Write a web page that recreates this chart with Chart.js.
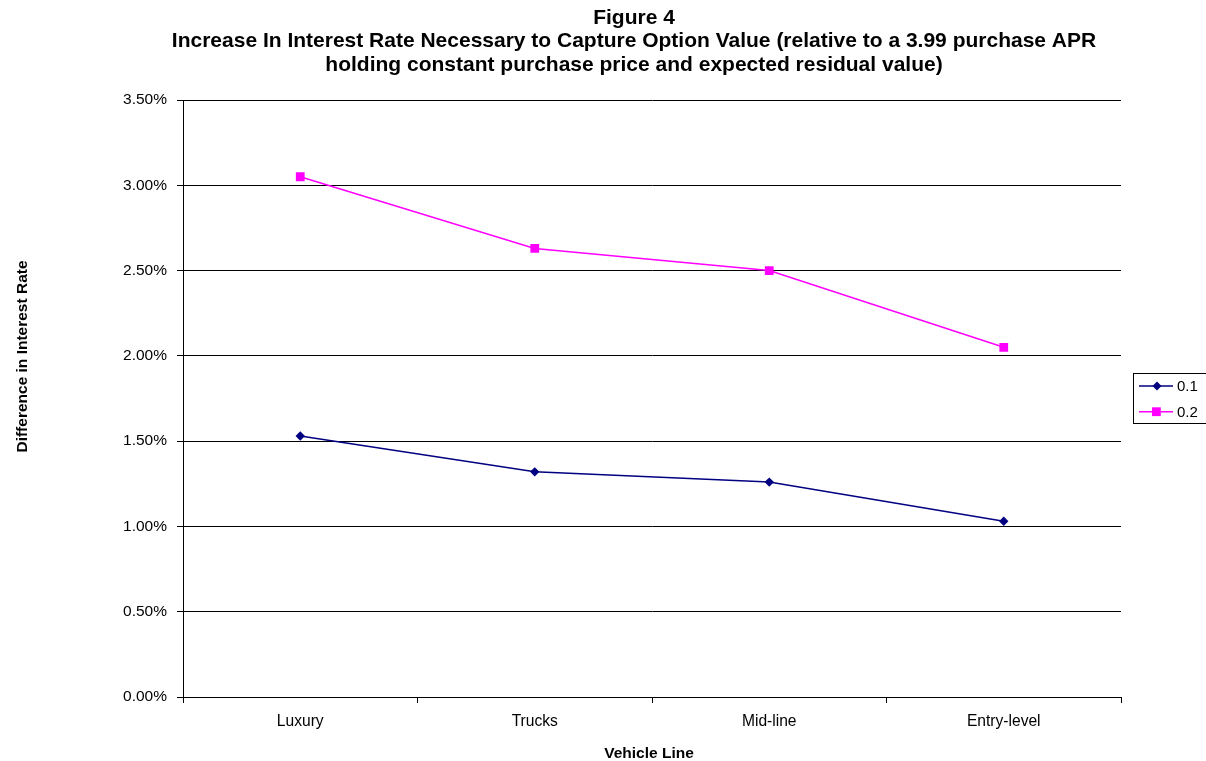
<!DOCTYPE html>
<html lang="en">
<head>
    <meta charset="UTF-8">
    <title>Figure 4</title>
    <script src="https://cdn.jsdelivr.net/npm/chart.js"></script>
    <style>
        body {
            margin: 0;
            padding: 0;
            background-color: #fff;
        }
        .wrap {
            width: 1206px;
            height: 761px;
        }
    </style>
</head>
<body>
    <div class="wrap">
        <canvas id="rateChart" width="1206" height="761"></canvas>
    </div>

    <script>
        const vehicleLines = ['Luxury', 'Trucks', 'Mid-line', 'Entry-level'];
        const seriesNames = ['0.1', '0.2'];
        const rates01 = [1.53, 1.32, 1.26, 1.03];
        const rates02 = [3.05, 2.63, 2.50, 2.05];
        const titleLines = [
            'Figure 4',
            'Increase In Interest Rate Necessary to Capture Option Value (relative to a 3.99 purchase APR',
            'holding constant purchase price and expected residual value)'
        ];

        const FONT = '"Liberation Sans", Arial, sans-serif';

        // titles and boxed legend, drawn the way the old spreadsheet placed them
        const textPlugin = {
            id: 'textPlugin',
            afterDraw(chart) {
                const ctx = chart.ctx;
                ctx.save();
                ctx.fillStyle = '#000';
                ctx.textAlign = 'center';
                ctx.textBaseline = 'alphabetic';

                ctx.font = 'bold 21px ' + FONT;
                titleLines.forEach((line, i) => ctx.fillText(line, 634, 24 + i * 23.3));

                ctx.font = 'bold 15.5px ' + FONT;
                ctx.fillText('Vehicle Line', 649, 758);
                ctx.save();
                ctx.translate(27, 356.5);
                ctx.rotate(-Math.PI / 2);
                ctx.fillText('Difference in Interest Rate', 0, 0);
                ctx.restore();

                // legend box
                ctx.strokeStyle = '#000';
                ctx.lineWidth = 1;
                ctx.strokeRect(1133.5, 373.5, 90, 50);
                ctx.font = '15px ' + FONT;
                ctx.textAlign = 'left';
                ctx.textBaseline = 'middle';
                chart.data.datasets.forEach((ds, i) => {
                    const y = 386 + i * 25.7;
                    ctx.strokeStyle = ds.borderColor;
                    ctx.fillStyle = ds.backgroundColor;
                    ctx.lineWidth = 1.5;
                    ctx.beginPath();
                    ctx.moveTo(1139, y);
                    ctx.lineTo(1173, y);
                    ctx.stroke();
                    ctx.beginPath();
                    if (ds.pointStyle === 'rectRot') {
                        ctx.moveTo(1157, y - 4.5);
                        ctx.lineTo(1161.5, y);
                        ctx.lineTo(1157, y + 4.5);
                        ctx.lineTo(1152.5, y);
                        ctx.closePath();
                    } else {
                        ctx.rect(1152, y - 4.4, 8.8, 8.8);
                    }
                    ctx.fill();
                    ctx.fillStyle = '#000';
                    ctx.fillText(ds.label, 1177, y + 1);
                });
                ctx.restore();
            }
        };

        new Chart(document.getElementById('rateChart'), {
            type: 'line',
            data: {
                labels: vehicleLines,
                datasets: [{
                    label: seriesNames[0],
                    data: rates01,
                    borderColor: '#000080',
                    backgroundColor: '#000080',
                    borderWidth: 1.5,
                    pointStyle: 'rectRot',
                    pointRadius: 4.7,
                    pointBorderWidth: 0,
                    tension: 0
                }, {
                    label: seriesNames[1],
                    data: rates02,
                    borderColor: '#FF00FF',
                    backgroundColor: '#FF00FF',
                    borderWidth: 1.5,
                    pointStyle: 'rect',
                    pointRadius: 6.2,
                    pointBorderWidth: 0,
                    tension: 0
                }]
            },
            options: {
                responsive: false,
                animation: false,
                layout: { padding: { top: 100, right: 85, left: 0, bottom: 0 } },
                plugins: {
                    legend: { display: false },
                    title: { display: false },
                    tooltip: { enabled: false }
                },
                scales: {
                    x: {
                        offset: true,
                        afterFit(scale) { scale.height = 64; },
                        grid: {
                            offset: true,
                            drawOnChartArea: false,
                            drawTicks: true,
                            tickLength: 6,
                            color: '#000'
                        },
                        border: { color: '#000', width: 1 },
                        ticks: {
                            color: '#000',
                            padding: 9,
                            maxRotation: 0,
                            font: { family: FONT, size: 15.6 }
                        }
                    },
                    y: {
                        min: 0,
                        max: 3.5,
                        afterFit(scale) { scale.width = 183; },
                        grid: {
                            color: '#000',
                            tickLength: 6
                        },
                        border: { color: '#000', width: 1 },
                        ticks: {
                            stepSize: 0.5,
                            color: '#000',
                            padding: 10,
                            font: { family: FONT, size: 15.5 },
                            callback: v => v.toFixed(2) + '%'
                        }
                    }
                }
            },
            plugins: [textPlugin]
        });
    </script>
</body>
</html>
